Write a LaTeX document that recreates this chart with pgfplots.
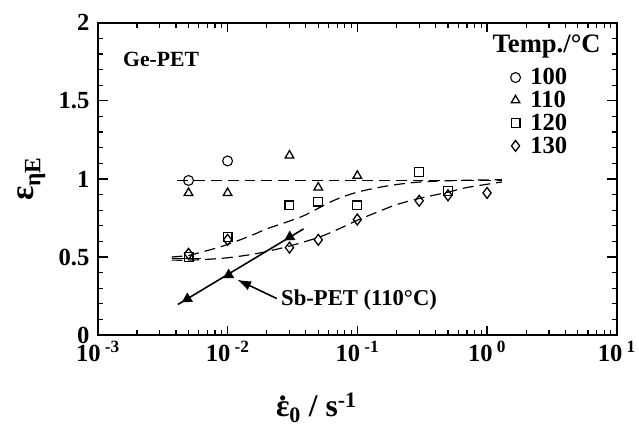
\documentclass[border=0pt]{standalone}
\usepackage{fontspec}
\setmainfont{Liberation Serif}
\usepackage{pgfplots}
\pgfplotsset{compat=1.18}
\usetikzlibrary{arrows.meta}
\newcommand{\fs}[1]{\fontsize{#1}{#1}\selectfont}
\newcommand{\epsdot}{{\ooalign{ε\cr\hfil\raisebox{0.52em}{.}\hfil\cr}}}

\begin{document}
\begin{tikzpicture}
\begin{axis}[
  at={(0,0)}, anchor=south west,
  scale only axis, width=525bp, height=316bp,
  xmode=log, xmin=1e-3, xmax=10, ymin=0, ymax=2,
  xtick={1e-3,1e-2,1e-1,1,10},
  xticklabels={10\,\textsuperscript{-3},10\,\textsuperscript{-2},10\,\textsuperscript{-1},10\,\textsuperscript{0},10\,\textsuperscript{1}},
  ytick={0,0.5,1,1.5,2}, minor y tick num=4,
  major tick length=9bp, minor tick length=5bp,
  tick style={black, line width=1.2bp},
  axis line style={line width=2bp},
  /pgf/number format/assume math mode=true,
  xticklabel style={font=\bfseries\fs{25}, yshift=-3bp},
  yticklabel style={font=\bfseries\fs{25}, xshift=-5bp},
  clip=false,
  legend style={draw=none, fill=none, at={(0.795,0.86)}, anchor=north west,
    font=\bfseries\fs{25}, row sep=1bp, inner sep=0pt,
    /tikz/every odd column/.style={column sep=8bp}},
  legend cell align=left,
]
% 100 C
\addplot[only marks, mark=o, mark size=5bp, line width=1.1bp] coordinates {
  (0.005,0.99) (0.01,1.115)};
\addlegendentry{100}
% 110 C
\addplot[only marks, mark=triangle, mark size=5bp, line width=1.3bp] coordinates {
  (0.005,0.91) (0.01,0.91) (0.03,1.15) (0.05,0.945) (0.1,1.02)};
\addlegendentry{110}
% 120 C
\addplot[only marks, mark=square, mark size=4.5bp, line width=1.1bp] coordinates {
  (0.005,0.50) (0.01,0.63) (0.03,0.83) (0.05,0.855) (0.1,0.83) (0.3,1.045) (0.5,0.92)};
\addlegendentry{120}
% 130 C
\addplot[only marks, mark=diamond, mark size=5.5bp, line width=1.3bp] coordinates {
  (0.005,0.52) (0.01,0.61) (0.03,0.56) (0.05,0.61) (0.1,0.74) (0.3,0.86) (0.5,0.895) (1,0.91)};
\addlegendentry{130}

% fitted curves
\addplot[forget plot, dash pattern=on 11bp off 6bp, line width=1.2bp] coordinates {
  (0.0041,0.99) (1.3,0.99)};
\addplot[forget plot, dash pattern=on 11bp off 6bp, line width=1.2bp, smooth] coordinates {
  (0.0037,0.50) (0.005,0.51) (0.0062,0.53) (0.008,0.555) (0.01,0.58) (0.0125,0.61)
  (0.016,0.645) (0.02,0.68) (0.03,0.73) (0.04,0.77) (0.065,0.86) (0.1,0.915)
  (0.17,0.955) (0.3,0.98) (0.6,0.99) (1.3,0.995)};
\addplot[forget plot, dash pattern=on 11bp off 6bp, line width=1.2bp, smooth] coordinates {
  (0.0037,0.48) (0.005,0.48) (0.007,0.485) (0.01,0.495) (0.015,0.515) (0.02,0.535)
  (0.03,0.57) (0.05,0.625) (0.07,0.675) (0.1,0.735) (0.15,0.795) (0.2,0.835)
  (0.3,0.875) (0.5,0.915) (0.7,0.945) (1.3,0.98)};
\addplot[forget plot, line width=1.2bp] coordinates {(0.0037,0.49) (0.0062,0.49)};

% Sb-PET (110 C)
\addplot[forget plot, line width=1.6bp] coordinates {(0.00414,0.196) (0.0385,0.68)};
\addplot[forget plot, only marks, mark=triangle*, mark size=6bp,
  mark options={rotate=121, fill=black}] coordinates {
  (0.0049,0.232) (0.0102,0.385) (0.0302,0.628)};

% inner tick marks on all four sides
\pgfplotsinvokeforeach{0.001,0.01,0.1,1,10}{
  \draw[line width=1.2bp] (axis cs:#1,0) -- ++(0bp,8bp);
  \draw[line width=1.2bp] (axis cs:#1,2) -- ++(0bp,-8bp);}
\pgfplotsinvokeforeach{0.002,0.003,0.004,0.005,0.006,0.007,0.008,0.009,
  0.02,0.03,0.04,0.05,0.06,0.07,0.08,0.09,0.2,0.3,0.4,0.5,0.6,0.7,0.8,0.9,
  2,3,4,5,6,7,8,9}{
  \draw[line width=1bp] (axis cs:#1,0) -- ++(0bp,4.5bp);
  \draw[line width=1bp] (axis cs:#1,2) -- ++(0bp,-4.5bp);}
\pgfplotsinvokeforeach{0,0.5,1,1.5,2}{
  \draw[line width=1.2bp] (axis cs:0.001,#1) -- ++(10bp,0bp);
  \draw[line width=1.2bp] (axis cs:10,#1) -- ++(-10bp,0bp);}
\pgfplotsinvokeforeach{0.1,0.2,0.3,0.4,0.6,0.7,0.8,0.9,1.1,1.2,1.3,1.4,1.6,1.7,1.8,1.9}{
  \draw[line width=1bp] (axis cs:0.001,#1) -- ++(5bp,0bp);
  \draw[line width=1bp] (axis cs:10,#1) -- ++(-5bp,0bp);}
\end{axis}

\node[font=\bfseries\fs{22}] at (64bp,279bp) {Ge-PET};
\node[font=\bfseries\fs{27}] at (454bp,292bp) {Temp./°C};
\node[font=\bfseries\fs{23}, anchor=west] at (182bp,35bp) {Sb-PET (110°C)};
\draw[line width=1.6bp, -{Latex[length=14bp,width=10bp]}] (181bp,37bp) -- (141bp,56bp);

\node[font=\bfseries\fs{32}] at (221bp,-74bp) {\epsdot\textsubscript{0} / s\textsuperscript{-1}};
\node[font=\bfseries\fs{34}, rotate=90] at (-67bp,158bp) {ε\textsubscript{ηE}};

\path (-99bp,-88bp) rectangle (540bp,339bp);
\end{tikzpicture}
\end{document}
